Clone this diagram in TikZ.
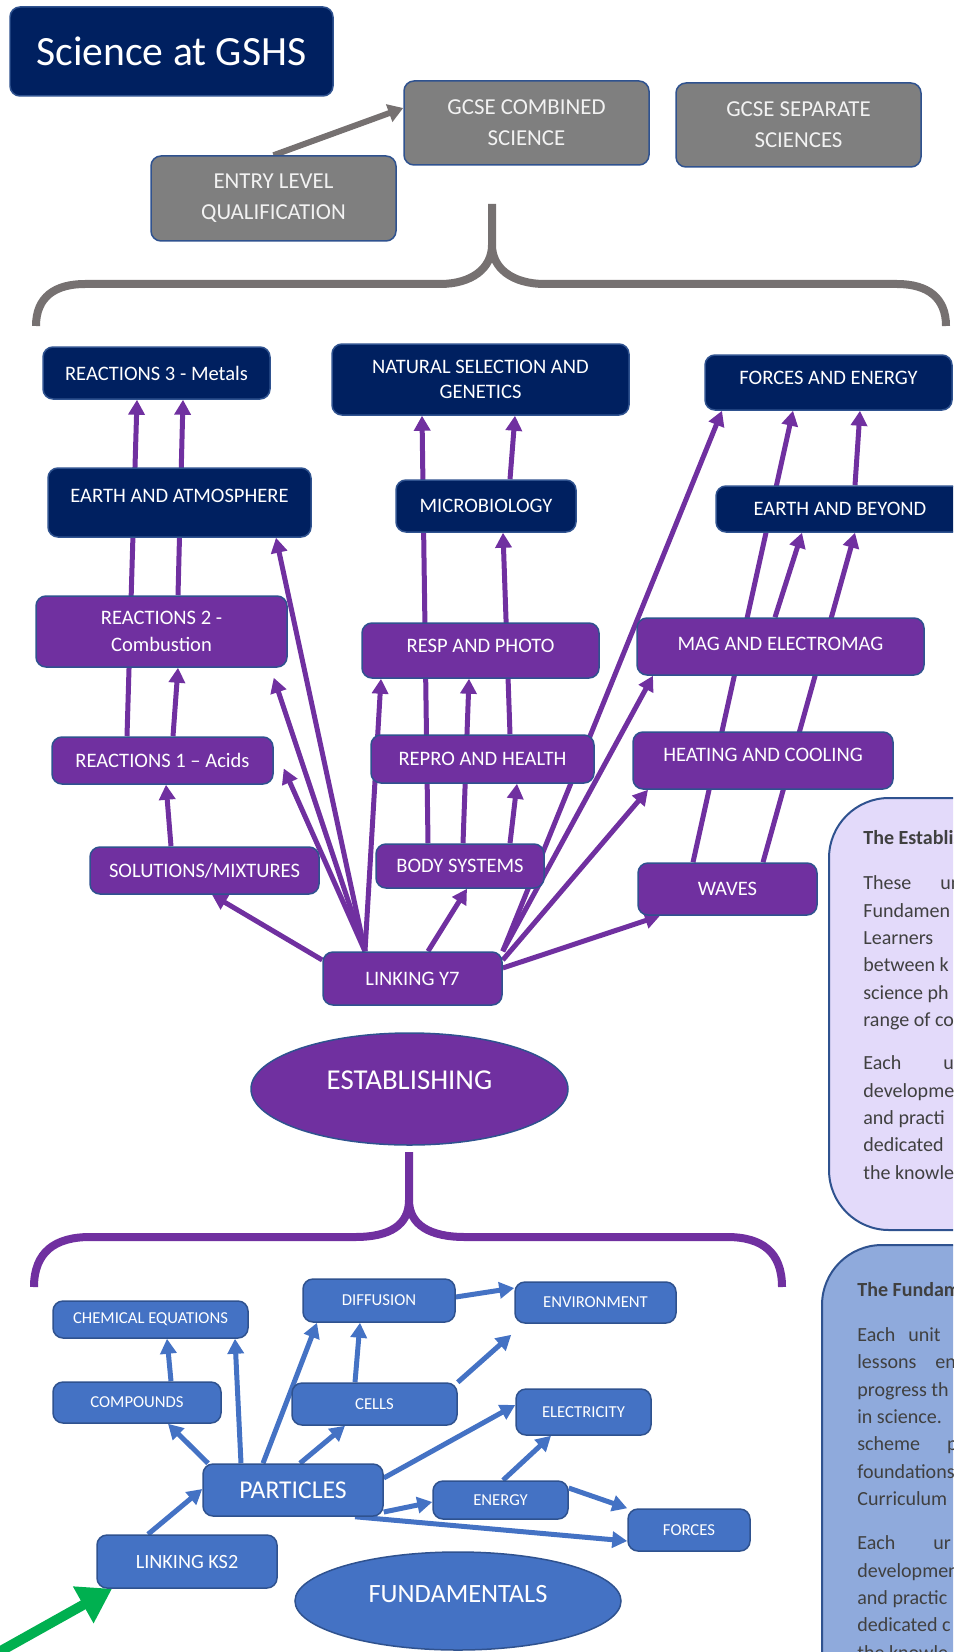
\documentclass[tikz,border=0pt]{standalone}
\usepackage{fontspec}
\setmainfont{Carlito}
\usepackage{xcolor}
\usepackage{tikz}
\usetikzlibrary{arrows.meta,shapes.geometric,backgrounds}

\definecolor{navybl}{HTML}{002060}
\definecolor{purp}{HTML}{7030A0}
\definecolor{blu}{HTML}{4472C4}
\definecolor{greybox}{HTML}{7F7F7F}
\definecolor{edge}{HTML}{2F528F}
\definecolor{greyarr}{HTML}{767171}
\definecolor{grn}{HTML}{00B050}
\definecolor{lav}{HTML}{E3DAFA}
\definecolor{paleblu}{HTML}{8FAADC}
\definecolor{bodytext}{HTML}{404040}
\definecolor{offwhite}{HTML}{F2F2F2}

\newcommand{\pxu}{0.02cm}

\begin{document}
\begin{tikzpicture}
  [x=0.02cm, y=-0.02cm,
   tile/.style = {draw=edge, line width=0.03cm, rounded corners=0.2cm,
                  inner sep=0pt, align=center, text=white},
   sz/.style 2 args = {minimum width=#1*\pxu, minimum height=#2*\pxu},
   gbox/.style = {tile, fill=greybox, text=offwhite,
                  font=\fontsize{13}{17.5}\selectfont},
   nbox/.style = {tile, fill=navybl, font=\fontsize{11.7}{14.5}\selectfont},
   pbox/.style = {tile, fill=purp, font=\fontsize{11.7}{15}\selectfont},
   blbox/.style = {tile, fill=blu, font=\fontsize{9.5}{11}\selectfont},
   oval/.style = {ellipse, draw=edge, line width=0.03cm, inner sep=0pt,
                  text=white},
   parr/.style = {draw=purp, line width=0.1cm,
                  -{Triangle[width=0.32cm,length=0.3cm]}},
   barr/.style = {draw=blu, line width=0.1cm,
                  -{Triangle[width=0.32cm,length=0.3cm]}},
   garr/.style = {draw=greyarr, line width=0.12cm,
                  -{Triangle[width=0.36cm,length=0.3cm]}},
   grarr/.style = {draw=grn, line width=0.2cm,
                   -{Triangle[width=0.8cm,length=0.66cm]}},
   brace/.style = {line width=0.16cm},
   note/.style = {anchor=base west, inner sep=0pt, text=bodytext,
                  font=\fontsize{11.4}{13}\selectfont}]
  \useasboundingbox (0,0) rectangle (953,1652);
  \clip (0,0) rectangle (953,1652);

  % Titulo
  \node[nbox, sz={323}{89}, font=\fontsize{23.7}{28}\selectfont] (title) at (171.5,51.5) {Science at GSHS};

  % Cualificaciones
  \node[gbox, sz={245}{85}] (entry) at (273.5,198.5) {ENTRY LEVEL\\QUALIFICATION};
  \node[gbox, sz={245}{84}] (combined) at (526.5,123) {GCSE COMBINED\\SCIENCE};
  \node[gbox, sz={245}{84}] (separate) at (798.5,125) {GCSE SEPARATE\\SCIENCES};

  % Llave gris
  \draw[brace, greyarr] (36,326) .. controls (36,297) and (55,284) .. (85,284) -- (440,284)
        .. controls (472,284) and (492,268) .. (492,245) -- (492,204);
  \draw[brace, greyarr] (492,245) .. controls (492,268) and (512,284) .. (545,284) -- (897,284)
        .. controls (928,284) and (946,298) .. (946,326);

  % Unidades Establishing
  \node[nbox, sz={227}{52}] (rthree) at (156.5,373) {REACTIONS 3 - Metals};
  \node[nbox, sz={297}{71}] (natsel) at (480.5,379.5) {NATURAL SELECTION AND\\GENETICS};
  \node[nbox, sz={247}{55}, text depth=0.18cm] (forcen) at (828.5,382.5) {FORCES AND ENERGY};
  \node[nbox, sz={263}{69}, text depth=0.28cm] (earthatm) at (179.5,502.5) {EARTH AND ATMOSPHERE};
  \node[nbox, sz={180}{52}] (micro) at (486,506) {MICROBIOLOGY};
  \node[nbox, sz={248}{46}] (earthbey) at (840,509) {EARTH AND BEYOND};
  \node[pbox, sz={251}{71}] (rtwo) at (161.5,631.5) {REACTIONS 2 -\\Combustion};
  \node[pbox, sz={237}{55}, text depth=0.18cm] (resp) at (480.5,650.5) {RESP AND PHOTO};
  \node[pbox, sz={287}{57}, text depth=0.12cm] (mag) at (780.5,646.5) {MAG AND ELECTROMAG};
  \node[pbox, sz={221}{47}] (rone) at (162.5,760.5) {REACTIONS 1 – Acids};
  \node[pbox, sz={223}{48}] (repro) at (482.5,759) {REPRO AND HEALTH};
  \node[pbox, sz={260}{57}, text depth=0.22cm] (heat) at (763,760.5) {HEATING AND COOLING};
  \node[pbox, sz={229}{47}] (solut) at (204.5,870.5) {SOLUTIONS/MIXTURES};
  \node[pbox, sz={168}{44}] (body) at (460,866) {BODY SYSTEMS};
  \node[pbox, sz={179}{52}] (waves) at (727.5,889) {WAVES};
  \node[pbox, sz={179}{53}] (yseven) at (412.5,978.5) {LINKING Y7};
  \node[oval, fill=purp, sz={317}{112}, font=\fontsize{16.4}{20}\selectfont, text depth=0.36cm] (establishing) at (409.5,1089) {ESTABLISHING};

  % Llave morada
  \draw[brace, purp] (34,1287) .. controls (34,1252) and (55,1237) .. (90,1237) -- (355,1237)
        .. controls (390,1237) and (409,1225) .. (409,1200) -- (409,1152);
  \draw[brace, purp] (409,1200) .. controls (409,1225) and (430,1237) .. (465,1237) -- (727,1237)
        .. controls (762,1237) and (782,1252) .. (782,1287);

  % Unidades Fundamentals
  \node[blbox, sz={195}{37}] (chemeq) at (150.5,1319.5) {CHEMICAL EQUATIONS};
  \node[blbox, sz={168}{41}] (compounds) at (137,1402.5) {COMPOUNDS};
  \node[blbox, sz={152}{43}] (diffusion) at (379,1300.5) {DIFFUSION};
  \node[blbox, sz={161}{41}] (environment) at (595.5,1302.5) {ENVIRONMENT};
  \node[blbox, sz={165}{42}] (cells) at (374.5,1404) {CELLS};
  \node[blbox, sz={135}{46}] (electricity) at (583.5,1412) {ELECTRICITY};
  \node[blbox, sz={180}{52}, font=\fontsize{14.6}{17}\selectfont] (particles) at (293,1490) {PARTICLES};
  \node[blbox, sz={135}{38}] (energy) at (500.5,1500) {ENERGY};
  \node[blbox, sz={122}{42}] (forces) at (689,1530) {FORCES};
  \node[blbox, sz={180}{53}, font=\fontsize{11.5}{14}\selectfont] (kstwo) at (187,1561.5) {LINKING KS2};
  \node[oval, fill=blu, sz={326}{98}, font=\fontsize{15}{18}\selectfont, text depth=0.28cm] (fundamentals) at (458,1601) {FUNDAMENTALS};

  % Cuadros de texto
  \draw[draw=edge, line width=0.04cm, fill=lav, rounded corners=1.2cm] (829,798) rectangle (1100,1230);
  \draw[draw=edge, line width=0.04cm, fill=paleblu, rounded corners=1.2cm] (822,1245) rectangle (1100,1800);
  \node[note] (e1) at (863,844) {\textbf{The Establishing}};
  \node[note] (e2) at (863,889) {These\hspace{0.58cm}un};
  \node[note] (e3) at (863,917) {Fundamen};
  \node[note] (e4) at (863,944) {Learners};
  \node[note] (e5) at (863,971) {between k};
  \node[note] (e6) at (863,999) {science ph};
  \node[note] (e7) at (863,1026) {range of co};
  \node[note] (e8) at (863,1069) {Each\hspace{0.84cm}u};
  \node[note] (e9) at (863,1097) {developme};
  \node[note] (e10) at (863,1124) {and practi};
  \node[note] (e11) at (863,1151) {dedicated};
  \node[note] (e12) at (863,1179) {the knowle};
  \node[note] (f1) at (857,1296) {\textbf{The Fundam}};
  \node[note] (f2) at (857,1341) {Each\hspace{0.26cm}unit};
  \node[note] (f3) at (857,1368) {lessons\hspace{0.38cm}en};
  \node[note] (f4) at (857,1396) {progress th};
  \node[note] (f5) at (857,1423) {in science.};
  \node[note] (f6) at (857,1450) {scheme\hspace{0.54cm}p};
  \node[note] (f7) at (857,1478) {foundations};
  \node[note] (f8) at (857,1505) {Curriculum};
  \node[note] (f9) at (857,1549) {Each\hspace{0.76cm}ur};
  \node[note] (f10) at (857,1577) {developmen};
  \node[note] (f11) at (857,1604) {and practic};
  \node[note] (f12) at (857,1631) {dedicated c};
  \node[note] (f13) at (857,1659) {the knowle};

  \begin{scope}[on background layer]
    % Flecha gris
    \draw[garr] (entry.north) -- (combined.west |- 0,108);
    % Flechas Establishing
    \draw[parr] (rone.north -| 127,0) -- (rthree.south -| 137,0);
    \draw[parr] (rone.north -| 173,0) -- (rtwo.south -| 178,0);
    \draw[parr] (rtwo.north -| 178,0) -- (rthree.south -| 183,0);
    \draw[parr] (solut.north -| 171,0) -- (rone.south -| 166,0);
    \draw[parr] (yseven.west |- 0,960) -- (solut.south -| 212,0);
    \draw[parr] (yseven.north -| 365,0) -- (earthatm.south -| 276,0);
    \draw[parr] (yseven.north -| 365,0) -- ([shift={(-14,10)}]rtwo.south east);
    \draw[parr] (yseven.north -| 365,0) -- ([shift={(10,8)}]rone.east);
    \draw[parr] (yseven.north -| 365,0) -- (resp.south -| 381,0);
    \draw[parr] (yseven.north -| 428,0) -- (body.south -| 467,0);
    \draw[parr] (body.north -| 428,0) -- (natsel.south -| 422,0);
    \draw[parr] (body.north -| 463,0) -- (resp.south -| 469,0);
    \draw[parr] (body.north -| 510,0) -- (repro.south -| 517,0);
    \draw[parr] (repro.north -| 510,0) -- (micro.south -| 503,0);
    \draw[parr] (micro.north -| 510,0) -- (natsel.south -| 515,0);
    \draw[parr] (yseven.north east) -- (forcen.south -| 722,0);
    \draw[parr] (yseven.north east) -- (mag.south -| 653,0);
    \draw[parr] (yseven.east |- 0,960) -- (heat.south -| 648,0);
    \draw[parr] (yseven.east |- 0,968) -- (waves.south -| 660,0);
    \draw[parr] (waves.north -| 693,0) -- (forcen.south -| 793,0);
    \draw[parr] (waves.north -| 763,0) -- (earthbey.south -| 855,0);
    \draw[parr] (mag.north -| 775,0) -- (earthbey.south -| 802,0);
    \draw[parr] (earthbey.north -| 855,0) -- (forcen.south -| 860,0);
    % Flechas Fundamentals
    \draw[barr] (compounds.north -| 171,0) -- (chemeq.south -| 167,0);
    \draw[barr] (particles.north -| 241,0) -- (chemeq.south -| 235,0);
    \draw[barr] (particles.north -| 208,0) -- (compounds.south -| 168,0);
    \draw[barr] (particles.north -| 263,0) -- (diffusion.south -| 317,0);
    \draw[barr] (cells.north -| 355,0) -- (diffusion.south -| 360,0);
    \draw[barr] (particles.north -| 300,0) -- (cells.south -| 345,0);
    \draw[barr] (cells.north east) -- ([shift={(-3,11)}]environment.south west);
    \draw[barr] (diffusion.east |- 0,1297) -- (environment.west |- 0,1288);
    \draw[barr] (particles.east |- 0,1478) -- (electricity.west |- 0,1405);
    \draw[barr] (energy.north -| 503,0) -- (electricity.south -| 551,0);
    \draw[barr] (particles.east |- 0,1512) -- (energy.west |- 0,1502);
    \draw[barr] (energy.east |- 0,1488) -- (forces.north west);
    \draw[barr] (particles.south -| 355,0) -- (forces.west |- 0,1541);
    \draw[barr] (kstwo.north -| 148,0) -- (particles.west |- 0,1489);
    % Flecha verde
    \coordinate (gstart) at (-10,1657);
    \draw[grarr] (gstart) -- (kstwo.south -| 112,0);
  \end{scope}
\end{tikzpicture}
\end{document}
